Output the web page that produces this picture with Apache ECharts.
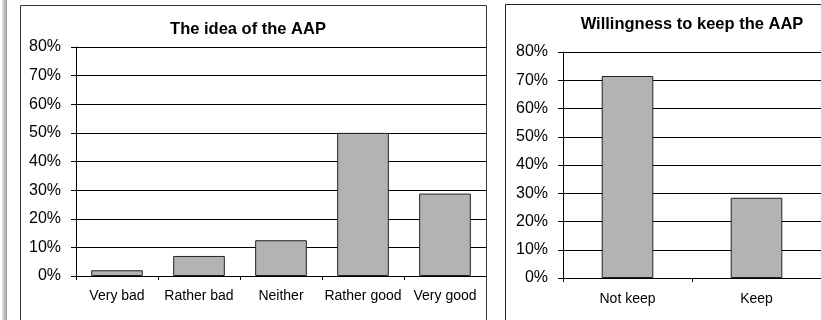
<!DOCTYPE html>
<html>
<head>
<meta charset="utf-8">
<script src="https://cdn.jsdelivr.net/npm/echarts@6/dist/echarts.min.js"></script>
<style>
  html, body { margin: 0; padding: 0; background: #fff; }
  #chart { width: 821px; height: 320px; }
</style>
</head>
<body>
<div id="chart"></div>
<script>
  // left panel: opinion of the AAP
  const ideaCategories = ['Very bad', 'Rather bad', 'Neither', 'Rather good', 'Very good']
  const ideaValues = [2.0, 7.0, 12.5, 50.0, 28.8]

  // right panel: willingness to keep it
  const keepCategories = ['Not keep', 'Keep']
  const keepValues = [71.5, 28.4]

  const font = 'Liberation Sans, Arial, sans-serif'

  const chart = echarts.init(document.getElementById('chart'))

  const yAxisBase = (gridIndex) => ({
    type: 'value',
    gridIndex,
    min: 0,
    max: 80,
    interval: 10,
    axisLine: { show: true, lineStyle: { color: '#000', width: 1 } },
    axisTick: { show: true, length: 5, lineStyle: { color: '#000' } },
    axisLabel: {
      color: '#000',
      fontSize: 16,
      fontFamily: font,
      margin: 15,
      formatter: '{value}%'
    },
    splitLine: { show: true, lineStyle: { color: '#000', width: 1 } }
  })

  const xAxisBase = (gridIndex, data, margin) => ({
    type: 'category',
    gridIndex,
    data,
    axisLine: { show: true, lineStyle: { color: '#000', width: 1 } },
    axisTick: { show: true, length: 4, alignWithLabel: false, lineStyle: { color: '#000' } },
    axisLabel: {
      color: '#000',
      fontSize: 14,
      fontFamily: font,
      margin,
      interval: 0
    }
  })

  const barStyle = {
    color: '#b3b3b3',
    borderColor: '#222',
    borderWidth: 1
  }

  chart.setOption({
    animation: false,
    backgroundColor: '#fff',
    title: [
      {
        text: 'The idea of the AAP',
        left: 243,
        textAlign: 'center',
        top: 16,
        textStyle: { fontSize: 16.5, fontWeight: 'bold', color: '#000', fontFamily: font }
      },
      {
        text: 'Willingness to keep the AAP',
        left: 687,
        textAlign: 'center',
        top: 11,
        textStyle: { fontSize: 16.5, fontWeight: 'bold', color: '#000', fontFamily: font }
      }
    ],
    grid: [
      { left: 76, top: 47, width: 410, height: 229 },
      { left: 563, top: 52, width: 260, height: 226 }
    ],
    xAxis: [
      xAxisBase(0, ideaCategories, 13),
      xAxisBase(1, keepCategories, 14)
    ],
    yAxis: [yAxisBase(0), yAxisBase(1)],
    series: [
      {
        type: 'bar',
        xAxisIndex: 0,
        yAxisIndex: 0,
        barWidth: '63%',
        itemStyle: barStyle,
        data: ideaValues
      },
      {
        type: 'bar',
        xAxisIndex: 1,
        yAxisIndex: 1,
        barWidth: '40%',
        itemStyle: barStyle,
        data: keepValues
      }
    ],
    graphic: [
      // shaded strip on the far left
      {
        type: 'rect',
        shape: { x: 2, y: 0, width: 5, height: 320 },
        style: {
          fill: new echarts.graphic.LinearGradient(0, 0, 1, 0, [
            { offset: 0, color: '#e6e6e6' },
            { offset: 1, color: '#9a9a9a' }
          ])
        },
        silent: true
      },
      // panel frames
      {
        type: 'rect',
        shape: { x: 20.5, y: 5.5, width: 466, height: 330 },
        style: { fill: 'none', stroke: '#333', lineWidth: 1 },
        silent: true,
        z: 10
      },
      {
        type: 'rect',
        shape: { x: 505.5, y: 4.5, width: 340, height: 330 },
        style: { fill: 'none', stroke: '#222', lineWidth: 1 },
        silent: true,
        z: 10
      }
    ]
  })

  window.addEventListener('resize', () => chart.resize())
</script>
</body>
</html>
